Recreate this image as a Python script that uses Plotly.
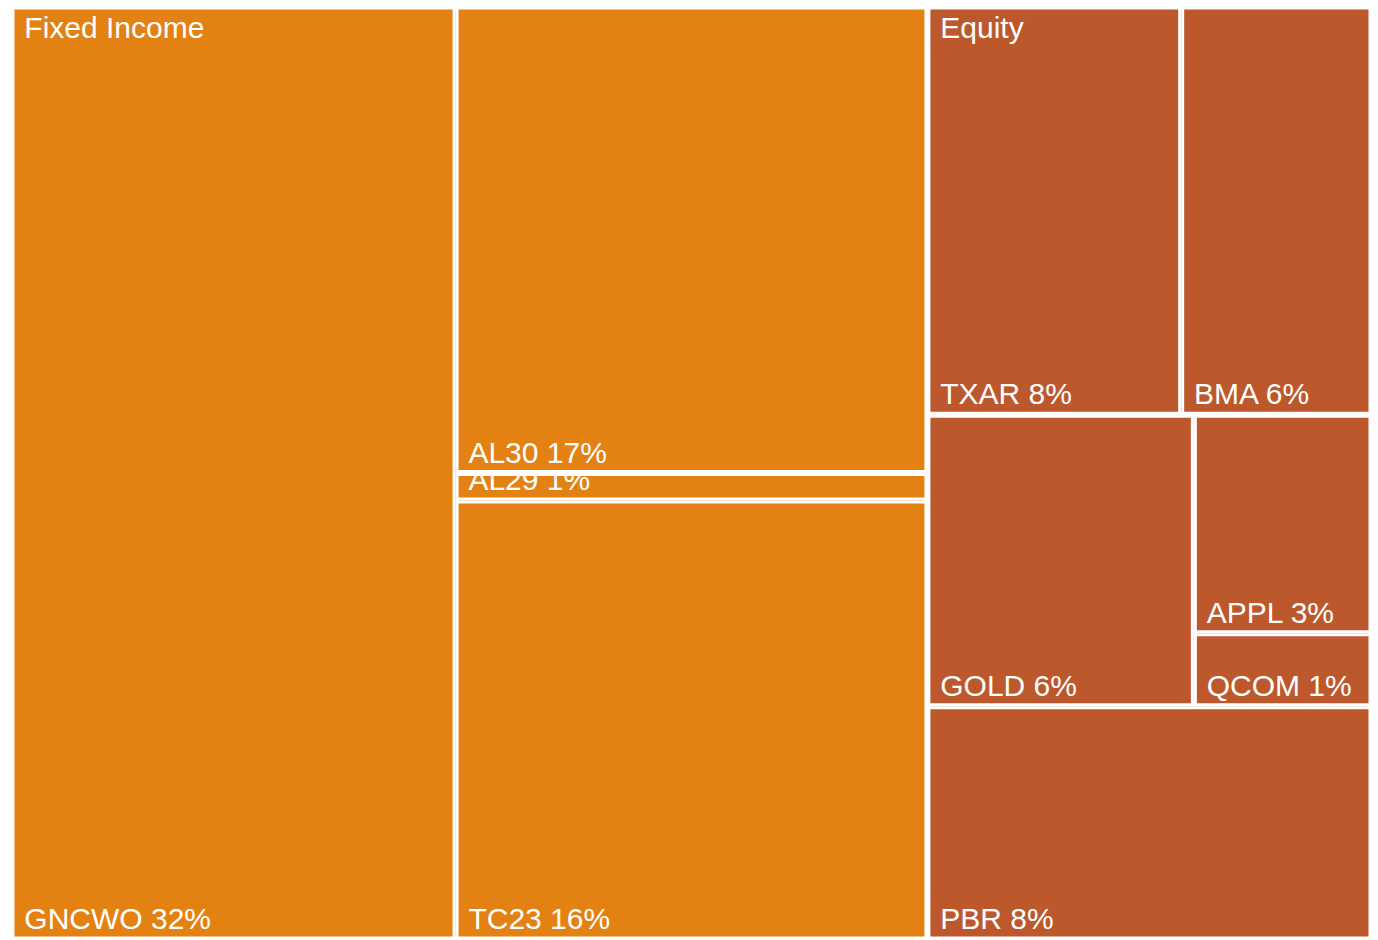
import plotly.graph_objects as go

# ---- data ----
groups = ["Fixed Income", "Equity"]
group_colors = ["#E38212", "#BD582D"]

fi_labels = ["GNCWO", "AL30", "AL29", "TC23"]
fi_values = [32, 17, 1, 16]

eq_labels = ["TXAR", "BMA", "GOLD", "APPL", "QCOM", "PBR"]
eq_values = [8, 6, 6, 3, 1, 8]

# tile grouping (which items share a strip), as in the reference
fi_blocks = [["GNCWO"], ["AL30", "AL29", "TC23"]]
eq_rows = [["TXAR", "BMA"], ["GOLD", ["APPL", "QCOM"]], ["PBR"]]

ids, labels, parents, values, colors, templates = [], [], [], [], [], []


def add(node_id, label, parent, value, color, tmpl):
    ids.append(node_id); labels.append(label); parents.append(parent)
    values.append(value); colors.append(color); templates.append(tmpl)


NB = "\u00a0"
leaf_tmpl = NB + "%{label} %{value}%"

# Fixed Income: group -> inner (columns) -> [GNCWO, stack(rows)]
fi_val = dict(zip(fi_labels, fi_values))
c = group_colors[0]
add("FI", groups[0], "", sum(fi_values), c, "")
add("FI/in", "", "FI", sum(fi_values), c, "")
for bi, block in enumerate(fi_blocks):
    if len(block) == 1:
        add("FI/" + block[0], block[0], "FI/in", fi_val[block[0]], c, leaf_tmpl)
    else:
        bid = "FI/in/b%d" % bi
        add(bid, "", "FI/in", sum(fi_val[k] for k in block), c, "")
        for k in block:
            add("FI/" + k, k, bid, fi_val[k], c, leaf_tmpl)

# Equity: group (rows) -> row (columns) -> column (rows)
eq_val = dict(zip(eq_labels, eq_values))
c = group_colors[1]
add("EQ", groups[1], "", sum(eq_values), c, "")


def total(item):
    return sum(total(i) for i in item) if isinstance(item, list) else eq_val[item]


for ri, row in enumerate(eq_rows):
    if len(row) == 1 and not isinstance(row[0], list):
        add("EQ/" + row[0], row[0], "EQ", eq_val[row[0]], c, leaf_tmpl)
        continue
    rid = "EQ/r%d" % ri
    add(rid, "", "EQ", total(row), c, "")
    for ci, item in enumerate(row):
        if isinstance(item, list):
            cid = rid + "/c%d" % ci
            add(cid, "", rid, total(item), c, "")
            for k in item:
                add("EQ/" + k, k, cid, eq_val[k], c, leaf_tmpl)
        else:
            add("EQ/" + item, item, rid, eq_val[item], c, leaf_tmpl)

font = dict(family="Liberation Sans, Arial, sans-serif", size=30, color="white")

fig = go.Figure()
fig.add_trace(go.Treemap(
    ids=ids, labels=labels, parents=parents, values=values,
    branchvalues="total", sort=False,
    marker=dict(colors=colors, line=dict(color="white", width=3),
                pad=dict(t=0, l=0, r=0, b=0)),
    texttemplate=templates, textposition="bottom left", textfont=font,
    tiling=dict(packing="slice-dice"),
    pathbar=dict(visible=False),
    hoverinfo="label+value",
))
# group headers, overlaid at the top-left of each group
fig.add_trace(go.Treemap(
    labels=groups, parents=["", ""],
    values=[sum(fi_values), sum(eq_values)],
    branchvalues="total", sort=False,
    marker=dict(colors=["rgba(0,0,0,0)", "rgba(0,0,0,0)"], line=dict(width=0),
                pad=dict(t=0, l=0, r=0, b=0)),
    texttemplate=NB + "%{label}", textposition="top left", textfont=font,
    tiling=dict(packing="slice-dice"),
    pathbar=dict(visible=False),
    hoverinfo="skip",
))
fig.update_layout(
    width=1362, height=930,
    margin=dict(l=5, r=0, t=0, b=0),
    paper_bgcolor="white",
    uniformtext=dict(minsize=30, mode="show"),
)
fig.write_html("out.html")
